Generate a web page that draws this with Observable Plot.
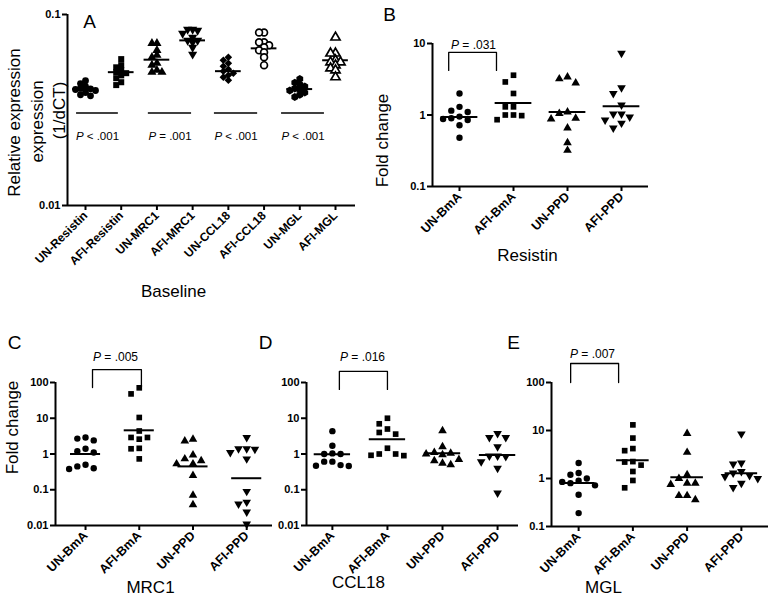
<!DOCTYPE html>
<html><head><meta charset="utf-8">
<script src="https://cdn.jsdelivr.net/npm/d3@7"></script>
<script src="https://cdn.jsdelivr.net/npm/@observablehq/plot@0.6"></script>
<style>
body{margin:0;background:#fff}
#wrap{position:relative;width:774px;height:599px;background:#fff}
#wrap svg{position:absolute;left:0;top:0}
g[aria-label="x-axis tick label"] text, g[aria-label="y-axis tick label"] text{font-weight:bold}
</style>
</head><body><div id="wrap"></div>
<script>
// ---------- DATA ----------
const baselineCategories = ["UN-Resistin","AFI-Resistin","UN-MRC1","AFI-MRC1","UN-CCL18","AFI-CCL18","UN-MGL","AFI-MGL"];
const baselineValues = [
  [0.045, 0.0435, 0.042, 0.041, 0.0408, 0.0405, 0.040, 0.039, 0.038, 0.0375],
  [0.0584, 0.0543, 0.0529, 0.0511, 0.0499, 0.0493, 0.048, 0.0464, 0.0442, 0.0427],
  [0.0706, 0.0706, 0.0649, 0.0612, 0.0597, 0.0556, 0.0543, 0.0511, 0.0499, 0.0499],
  [0.0835, 0.0835, 0.0825, 0.0796, 0.0759, 0.0732, 0.0732, 0.0715, 0.0673, 0.0619],
  [0.0597, 0.0576, 0.0556, 0.0536, 0.0517, 0.0505, 0.0493, 0.0481, 0.047, 0.0453],
  [0.0805, 0.0805, 0.0715, 0.0715, 0.069, 0.0673, 0.0649, 0.0634, 0.0597, 0.0543],
  [0.046, 0.044, 0.043, 0.042, 0.041, 0.0405, 0.040, 0.039, 0.038, 0.037],
  [0.0759, 0.0626, 0.0626, 0.0576, 0.0563, 0.0563, 0.0543, 0.0523, 0.0511, 0.047]
];
const baselineMedians = [0.0407, 0.0499, 0.058, 0.0732, 0.0505, 0.0665, 0.0407, 0.0576];
const baselinePLabels = ["P < .001", "P = .001", "P < .001", "P < .001"];
const baselinePLineStart = [-0.25, 1.76, 3.61, 5.49];
const baselinePLineEnd = [0.92, 2.97, 4.82, 6.69];
const baselinePLineLevel = 0.0305;
const baselinePTextLevel = 0.0229;

const groups = ["UN-BmA", "AFI-BmA", "UN-PPD", "AFI-PPD"];

const resistinValues = [
  [2.0, 1.3, 1.15, 1.1, 0.95, 0.9, 0.88, 0.85, 0.72, 0.48],
  [3.6, 2.9, 2.0, 1.3, 1.3, 1.0, 1.0, 0.98, 0.86],
  [3.4, 3.2, 2.8, 1.1, 1.05, 0.9, 0.88, 0.66, 0.41, 0.32],
  [7.3, 2.4, 2.0, 1.38, 1.03, 1.03, 0.94, 0.85, 0.77, 0.66]
];
const resistinMedians = [0.94, 1.47, 1.1, 1.33];
const resistinP = "P = .031";

const mrc1Values = [
  [2.9, 2.7, 2.4, 1.4, 1.2, 1.1, 0.5, 0.45, 0.4, 0.38],
  [71, 48, 10.5, 4.4, 2.9, 2.9, 2.6, 1.44, 1.4, 0.73],
  [2.6, 2.3, 0.94, 0.73, 0.65, 0.53, 0.53, 0.25, 0.07, 0.038],
  [2.9, 1.4, 1.4, 1.35, 1.1, 0.73, 0.09, 0.045, 0.04, 0.024, 0.011]
];
const mrc1Medians = [1.0, 4.6, 0.45, 0.21];
const mrc1P = "P = .005";

const ccl18Values = [
  [4.36, 1.7, 1.04, 1.0, 1.0, 0.61, 0.61, 0.49, 0.47, 0.46],
  [10, 7, 5, 4, 3.6, 1.45, 1.0, 1.0, 0.92, 0.9],
  [4.5, 1.6, 1.1, 1.05, 1.0, 0.95, 0.7, 0.65, 0.55, 0.5],
  [3.75, 2.9, 2.9, 1.6, 0.88, 0.88, 0.85, 0.61, 0.4, 0.081]
];
const ccl18Medians = [0.98, 2.6, 1.05, 0.94];
const ccl18P = "P = .016";

const mglValues = [
  [2.1, 1.3, 1.2, 1.0, 0.9, 0.85, 0.8, 0.72, 0.46, 0.19],
  [13.1, 6.95, 4.2, 3.8, 2.25, 2.2, 1.9, 1.4, 0.91, 0.64],
  [8.7, 3.5, 1.2, 1.0, 0.8, 0.8, 0.75, 0.44, 0.44, 0.36],
  [8.5, 2.1, 2.0, 1.4, 1.3, 1.15, 1.1, 1.0, 0.8, 0.65]
];
const mglMedians = [0.81, 2.4, 1.06, 1.29];
const mglP = "P = .007";

// ---------- SYMBOLS ----------
const triangleDown = {
  draw(context, size) {
    const s3 = Math.sqrt(3);
    const y = -Math.sqrt(size / (s3 * 3));
    context.moveTo(0, -y * 2);
    context.lineTo(-s3 * y, y);
    context.lineTo(s3 * y, y);
    context.closePath();
  }
};
const filled = s => ({symbol: s, fill: "black", stroke: "none", sw: 0});
const open = s => ({symbol: s, fill: "white", stroke: "black", sw: 1.7});
const baselineShapes = [filled("circle"), filled("square"), filled("triangle"), filled(triangleDown),
  filled("diamond2"), open("circle"), filled("hexagon"), open("triangle")];
const foldShapes = [filled("circle"), filled("square"), filled("triangle"), filled(triangleDown)];

const FONT = "'Liberation Sans', Arial, Helvetica, sans-serif";

function dodge(pys, d) {
  const order = pys.map((py, i) => [py, i]).sort((a, b) => a[0] - b[0]);
  const placed = [], off = new Array(pys.length);
  for (const [py, i] of order) {
    for (let k = 0; k < 40; k++) {
      const s = k === 0 ? 0 : (k % 2 ? -Math.ceil(k / 2) : Math.ceil(k / 2));
      const px = s * d;
      if (placed.every(p => (p.x - px) ** 2 + (p.y - py) ** 2 >= d * d * 0.85)) {
        placed.push({x: px, y: py}); off[i] = px; break;
      }
    }
  }
  return off;
}

function panel(cfg) {
  const {L, R, T, B, xDomain, yDomain, yTicks, cats, values, medians, shapes, r, d, medHalf, xFont} = cfg;
  const yPx = d3.scaleLog().domain(yDomain).range([B, T]);
  const pxPerUnit = (R - L) / (xDomain[1] - xDomain[0]);
  const pts = [];
  values.forEach((vals, i) => {
    const off = dodge(vals.map(v => yPx(v)), d);
    vals.forEach((v, j) => pts.push({g: i, x: i + off[j] / pxPerUnit, v}));
  });
  const lab = (s, X, Y, o = {}) => Plot.text([s], {frameAnchor: "top-left", dx: X - L, dy: Y - T, text: t => t,
    fontSize: 17, textAnchor: "middle", lineAnchor: "middle", ...o});
  const marks = [
    Plot.ruleX([xDomain[0]], {strokeWidth: 2}),
    Plot.ruleY([yDomain[0]], {strokeWidth: 2}),
    Plot.axisY({ticks: yTicks, tickFormat: t => String(t), tickSize: 5, tickPadding: 2, fontSize: 11, fontWeight: "bold", strokeWidth: 2, label: null}),
    Plot.axisX({ticks: cats.map((c, i) => i), tickFormat: i => cats[i], tickSize: 5, tickPadding: 3, tickRotate: -45, fontSize: xFont, fontWeight: "bold", strokeWidth: 2, label: null}),
    Plot.ruleY(medians.map((m, i) => ({y: m, x1: i - medHalf, x2: i + medHalf})), {y: "y", x1: "x1", x2: "x2", strokeWidth: 2}),
    ...shapes.map((s, i) => Plot.dot(pts.filter(p => p.g === i), {x: "x", y: "v", r, symbol: s.symbol, fill: s.fill, stroke: s.stroke, strokeWidth: s.sw})),
    ...cfg.extra(lab)
  ];
  return Plot.plot({
    width: 774, height: 599,
    marginLeft: L, marginRight: 774 - R, marginTop: T, marginBottom: 599 - B,
    style: {fontFamily: FONT, background: "transparent", overflow: "visible", color: "black"},
    x: {type: "linear", domain: xDomain},
    y: {type: "log", domain: yDomain},
    marks
  });
}

function bracket(a, b, top, bot) {
  return Plot.line([{x: a, y: bot}, {x: a, y: top}, {x: b, y: top}, {x: b, y: bot}], {x: "x", y: "y", strokeWidth: 1.3});
}

const wrap = document.getElementById("wrap");

// Panel A
wrap.appendChild(panel({
  L: 67, R: 355, T: 14, B: 205, xDomain: [-0.504, 7.56], yDomain: [0.01, 0.1], yTicks: [0.01, 0.1],
  cats: baselineCategories, values: baselineValues, medians: baselineMedians, shapes: baselineShapes,
  r: 3.4, d: 5, medHalf: 0.36, xFont: 12,
  extra: lab => [
    Plot.ruleY(baselinePLabels.map((p, k) => ({y: baselinePLineLevel, x1: baselinePLineStart[k], x2: baselinePLineEnd[k]})), {y: "y", x1: "x1", x2: "x2", strokeWidth: 1.3}),
    Plot.text(baselinePLabels.map((p, k) => ({p, x: (baselinePLineStart[k] + baselinePLineEnd[k]) / 2})), {x: "x", y: () => baselinePTextLevel, text: "p", fontSize: 11.5}),
    lab("A", 89, 21, {fontSize: 19}),
    lab("Relative expression", 14, 122, {rotate: -90}),
    lab("expression", 37, 121, {rotate: -90}),
    lab("(1/dCT)", 59, 110, {rotate: -90}),
    lab("Baseline", 173, 291)
  ]
}));

// Panel B
wrap.appendChild(panel({
  L: 432, R: 648, T: 43, B: 186, xDomain: [-0.5, 3.5], yDomain: [0.1, 10], yTicks: [0.1, 1, 10],
  cats: groups, values: resistinValues, medians: resistinMedians, shapes: foldShapes,
  r: 3.2, d: 8.2, medHalf: 0.34, xFont: 12.5,
  extra: lab => [
    bracket(-0.2, 0.685, 7.5, 4.2),
    lab(resistinP, 473, 45, {fontSize: 12}),
    lab("B", 389, 14, {fontSize: 19}),
    lab("Fold change", 382, 140, {rotate: -90}),
    lab("Resistin", 527, 255)
  ]
}));

// Panel C
wrap.appendChild(panel({
  L: 55, R: 272, T: 382, B: 525, xDomain: [-0.559, 3.48], yDomain: [0.01, 100], yTicks: [0.01, 0.1, 1, 10, 100],
  cats: groups, values: mrc1Values, medians: mrc1Medians, shapes: foldShapes,
  r: 3.2, d: 8.2, medHalf: 0.28, xFont: 12.5,
  extra: lab => [
    bracket(0.13, 1.04, 230, 72.5),
    lab(mrc1P, 115, 357, {fontSize: 12}),
    lab("C", 14, 342, {fontSize: 19}),
    lab("Fold change", 12, 427, {rotate: -90}),
    lab("MRC1", 150, 587)
  ]
}));

// Panel D
wrap.appendChild(panel({
  L: 306, R: 518, T: 382, B: 525, xDomain: [-0.47, 3.38], yDomain: [0.01, 100], yTicks: [0.01, 0.1, 1, 10, 100],
  cats: groups, values: ccl18Values, medians: ccl18Medians, shapes: foldShapes,
  r: 3.2, d: 8.2, medHalf: 0.33, xFont: 12.5,
  extra: lab => [
    bracket(0.127, 1.0, 204, 64),
    lab(ccl18P, 362, 357, {fontSize: 12}),
    lab("D", 265, 342, {fontSize: 19}),
    lab("CCL18", 358, 582)
  ]
}));

// Panel E
wrap.appendChild(panel({
  L: 551, R: 768, T: 382, B: 526, xDomain: [-0.5, 3.5], yDomain: [0.1, 100], yTicks: [0.1, 1, 10, 100],
  cats: groups, values: mglValues, medians: mglMedians, shapes: foldShapes,
  r: 3.2, d: 8.2, medHalf: 0.3, xFont: 12.5,
  extra: lab => [
    bracket(-0.147, 0.737, 249, 100),
    lab(mglP, 592, 354, {fontSize: 12}),
    lab("E", 513, 342, {fontSize: 19}),
    lab("MGL", 603, 587)
  ]
}));

// Italic "P" in the p-value labels
d3.selectAll("#wrap svg text").each(function () {
  const t = this.textContent;
  if (/^P [<=]/.test(t) && this.children.length === 0) {
    const sel = d3.select(this);
    sel.text(null);
    sel.append("tspan").attr("font-style", "italic").text("P");
    sel.append("tspan").text(t.slice(1));
  }
});
</script>
</body></html>
